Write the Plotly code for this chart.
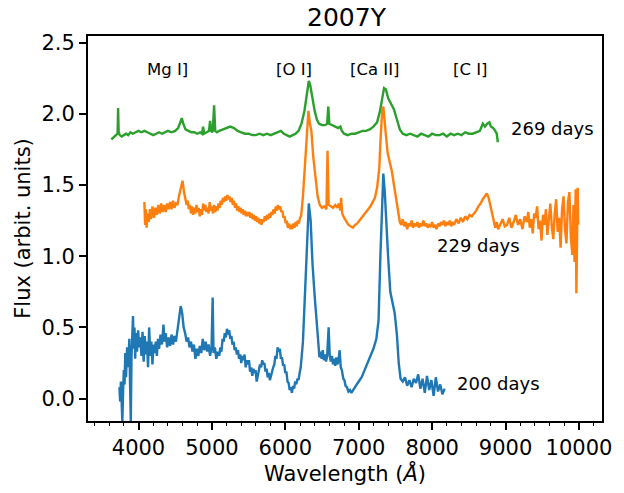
import plotly.graph_objects as go

# ---------------- data ----------------
green_wl = [3630, 3650, 3680, 3700, 3715, 3722, 3730, 3745, 3770, 3800, 3830, 3860, 3890, 3920,
            3960, 4000, 4040, 4080, 4120, 4160, 4200, 4240, 4280, 4320, 4360, 4400, 4450, 4500,
            4540, 4570, 4590, 4610, 4640, 4680, 4720, 4760, 4800, 4840, 4865, 4880, 4895, 4930,
            4960, 4975, 4990, 5010, 5030, 5045, 5070, 5100, 5150, 5200, 5250, 5300, 5350, 5400,
            5450, 5500, 5550, 5600, 5650, 5700, 5750, 5800, 5850, 5900, 5940, 5980, 6020, 6060,
            6100, 6140, 6180, 6220, 6260, 6290, 6320, 6340, 6370, 6400, 6430, 6460, 6500, 6540,
            6570, 6585, 6600, 6640, 6680, 6720, 6750, 6770, 6800, 6850, 6900, 6950, 7000, 7050,
            7100, 7150, 7200, 7250, 7290, 7320, 7345, 7370, 7400, 7440, 7480, 7520, 7560, 7600,
            7650, 7700, 7750, 7800, 7850, 7900, 7950, 8000, 8050, 8100, 8150, 8200, 8250, 8300,
            8350, 8400, 8450, 8500, 8550, 8600, 8650, 8690, 8720, 8750, 8780, 8800, 8830, 8860,
            8880, 8895]
green_fl = [1.82, 1.83, 1.84, 1.85, 1.86, 2.04, 1.87, 1.85, 1.84, 1.85, 1.86, 1.85, 1.87, 1.86,
            1.87, 1.88, 1.87, 1.88, 1.87, 1.86, 1.85, 1.86, 1.87, 1.86, 1.87, 1.88, 1.87, 1.88,
            1.90, 1.95, 1.97, 1.93, 1.89, 1.88, 1.87, 1.87, 1.86, 1.87, 1.86, 1.91, 1.86, 1.87,
            1.88, 1.95, 1.88, 1.87, 2.06, 1.88, 1.87, 1.88, 1.89, 1.90, 1.91, 1.90, 1.88, 1.87,
            1.86, 1.86, 1.85, 1.85, 1.86, 1.85, 1.86, 1.85, 1.86, 1.87, 1.88, 1.86, 1.85, 1.84,
            1.85, 1.86, 1.88, 1.93, 2.02, 2.12, 2.23, 2.20, 2.10, 2.02, 1.96, 1.93, 1.92, 1.92,
            1.93, 2.05, 1.93, 1.92, 1.91, 1.90, 1.91, 1.88, 1.86, 1.85, 1.86, 1.86, 1.87, 1.88,
            1.88, 1.89, 1.91, 1.94, 2.02, 2.12, 2.18, 2.17, 2.11, 2.07, 2.03, 1.96, 1.89, 1.86,
            1.85, 1.86, 1.85, 1.84, 1.86, 1.85, 1.84, 1.86, 1.85, 1.85, 1.86, 1.84, 1.86, 1.85,
            1.86, 1.85, 1.87, 1.86, 1.86, 1.87, 1.88, 1.93, 1.91, 1.93, 1.94, 1.91, 1.90, 1.88,
            1.86, 1.80]

orange_wl = [4080, 4090, 4100, 4110, 4125, 4140, 4155, 4170, 4190, 4210, 4230, 4250, 4270, 4290,
             4310, 4330, 4350, 4370, 4390, 4410, 4430, 4450, 4470, 4490, 4510, 4530, 4550, 4580,
             4600, 4620, 4640, 4655, 4670, 4685, 4700, 4715, 4730, 4745, 4760, 4775, 4790, 4805,
             4820, 4835, 4850, 4865, 4880, 4895, 4910, 4925, 4940, 4955, 4970, 4985, 5000, 5015,
             5030, 5045, 5060, 5075, 5090, 5105, 5120, 5135, 5150, 5165, 5180, 5195, 5210, 5225,
             5240, 5255, 5270, 5285, 5300, 5315, 5330, 5345, 5360, 5375, 5390, 5405, 5420, 5435,
             5450, 5465, 5480, 5495, 5510, 5525, 5540, 5555, 5570, 5585, 5600, 5615, 5630, 5645,
             5660, 5675, 5690, 5705, 5720, 5735, 5750, 5765, 5780, 5795, 5810, 5825, 5840, 5855,
             5870, 5885, 5900, 5915, 5930, 5945, 5960, 5975, 5990, 6005, 6020, 6035, 6050, 6065,
             6080, 6095, 6110, 6125, 6140, 6155, 6170, 6185, 6200, 6215,
             6240, 6270, 6295, 6315, 6335, 6355, 6380, 6410, 6440, 6470,
             6500, 6530, 6560, 6575, 6590, 6620, 6650, 6680, 6710, 6730, 6750, 6760, 6775, 6800,
             6830, 6860, 6890, 6920, 6950, 6980, 7010, 7040, 7070, 7100, 7130, 7160, 7190, 7220,
             7250, 7280, 7300, 7320, 7335, 7350, 7370, 7395, 7420, 7450, 7480, 7510, 7540, 7560,
             7580, 7600, 7620, 7640, 7660, 7680, 7700, 7720, 7740, 7760, 7780, 7800, 7820, 7840,
             7860, 7880, 7900, 7920, 7940, 7960, 7980, 8000, 8020, 8040, 8060, 8080, 8100, 8120,
             8140, 8160, 8180, 8200, 8220, 8240, 8260, 8280, 8300, 8330, 8360, 8390, 8420, 8450,
             8480, 8510, 8540, 8570, 8600, 8630, 8660, 8690, 8720, 8745, 8770, 8800, 8830, 8860,
             8880, 8900, 8930, 8960, 8990, 9020, 9050, 9080, 9110, 9140, 9170, 9200, 9230, 9260,
             9290, 9310, 9330, 9350, 9370, 9390, 9410, 9430, 9450, 9470, 9490, 9510, 9530, 9550,
             9570, 9590, 9610, 9630, 9650, 9670, 9690, 9710, 9730, 9750, 9770, 9790, 9810, 9830,
             9850, 9870, 9890, 9910, 9925, 9940, 9955, 9965, 9975, 9983, 9990]
orange_fl = [1.38, 1.22, 1.33, 1.20, 1.30, 1.24, 1.33, 1.26, 1.35, 1.27, 1.34, 1.29, 1.36, 1.30,
             1.37, 1.31, 1.36, 1.31, 1.37, 1.33, 1.38, 1.33, 1.39, 1.34, 1.37, 1.36, 1.42, 1.50,
             1.53, 1.45, 1.40, 1.36, 1.39, 1.33, 1.36, 1.30, 1.35, 1.29, 1.34, 1.30, 1.36, 1.31,
             1.34, 1.28, 1.33, 1.29, 1.37, 1.32, 1.36, 1.31, 1.34, 1.30, 1.38, 1.32, 1.35, 1.30,
             1.36, 1.31, 1.35, 1.32, 1.37, 1.34, 1.39, 1.36, 1.41, 1.38, 1.42, 1.39, 1.43, 1.40,
             1.42, 1.38, 1.41, 1.36, 1.39, 1.34, 1.37, 1.32, 1.35, 1.31, 1.34, 1.30, 1.33, 1.29,
             1.32, 1.28, 1.31, 1.28, 1.31, 1.27, 1.30, 1.26, 1.29, 1.25, 1.28, 1.24, 1.27, 1.23,
             1.26, 1.22, 1.26, 1.24, 1.28, 1.25, 1.29, 1.26, 1.30, 1.27, 1.31, 1.29, 1.33, 1.30,
             1.35, 1.32, 1.36, 1.33, 1.35, 1.31, 1.32, 1.27, 1.28, 1.23, 1.25, 1.20, 1.23, 1.19,
             1.22, 1.19, 1.23, 1.20, 1.24, 1.21, 1.25, 1.23, 1.27, 1.28,
             1.42, 1.65, 1.85, 2.02, 1.93, 1.88, 1.70, 1.58, 1.42, 1.36,
             1.34, 1.35, 1.33, 1.74, 1.36, 1.35, 1.34, 1.36, 1.34, 1.37, 1.32, 1.41, 1.30, 1.27,
             1.24, 1.22, 1.21, 1.20, 1.22, 1.23, 1.25, 1.27, 1.29, 1.31, 1.33, 1.35, 1.38, 1.41,
             1.48, 1.62, 1.85, 2.02, 2.05, 1.93, 1.85, 1.72, 1.66, 1.60, 1.50, 1.40, 1.30, 1.24,
             1.22, 1.26, 1.21, 1.24, 1.19, 1.23, 1.21, 1.25, 1.20, 1.23, 1.21, 1.24, 1.20, 1.23,
             1.21, 1.25, 1.21, 1.23, 1.20, 1.22, 1.21, 1.24, 1.20, 1.22, 1.19, 1.23, 1.21, 1.24,
             1.22, 1.25, 1.21, 1.24, 1.22, 1.25, 1.21, 1.24, 1.22, 1.26, 1.23, 1.27, 1.24, 1.28,
             1.26, 1.29, 1.28, 1.30, 1.32, 1.35, 1.37, 1.40, 1.42, 1.44, 1.41, 1.35, 1.27, 1.20,
             1.24, 1.19, 1.23, 1.26, 1.21, 1.22, 1.27, 1.20, 1.24, 1.29, 1.22, 1.26, 1.19, 1.28,
             1.24, 1.31, 1.20, 1.26, 1.16, 1.30, 1.27, 1.35, 1.19, 1.25, 1.11, 1.29, 1.22, 1.33,
             1.15, 1.26, 1.37, 1.21, 1.12, 1.30, 1.40, 1.17, 1.27, 1.06, 1.33, 1.42, 1.19, 1.09,
             1.38, 1.45, 1.13, 1.01, 1.36, 0.96, 1.47, 0.74, 1.12, 1.48, 1.22]

blue_wl = [3740, 3750, 3760, 3770, 3780, 3790, 3800, 3810, 3820, 3830, 3845, 3860, 3875, 3885,
           3895, 3905, 3915, 3925, 3935, 3945, 3955, 3965, 3980, 3995, 4010, 4025, 4040, 4055,
           4070, 4085, 4100, 4115, 4130, 4145, 4160, 4175, 4190, 4205, 4220, 4235, 4250, 4265,
           4280, 4300, 4320, 4340, 4355, 4370, 4390, 4410, 4430, 4450, 4470, 4490, 4510, 4530,
           4550, 4575, 4595, 4615, 4635, 4655, 4675, 4695, 4715, 4735, 4755, 4775, 4795, 4815,
           4835, 4855, 4875, 4895, 4915, 4935, 4955, 4975, 4995, 5010, 5022, 5040, 5060, 5080,
           5100, 5115, 5130, 5145, 5160, 5175, 5190, 5205, 5220, 5235, 5250, 5265, 5280, 5295,
           5310, 5325, 5340, 5355, 5370, 5385, 5400, 5415, 5430, 5445, 5460, 5475, 5490, 5505,
           5520, 5535, 5550, 5565, 5580, 5595, 5610, 5625, 5640, 5655, 5670, 5685, 5700, 5715,
           5730, 5745, 5760, 5775, 5790, 5805, 5820, 5835, 5850, 5865, 5880, 5895, 5910, 5925,
           5940, 5955, 5970, 5985, 6000, 6015, 6030, 6045, 6060, 6075, 6090, 6105, 6120, 6135,
           6150, 6165, 6180, 6195, 6210, 6240, 6270, 6295, 6320,
           6345, 6370, 6400, 6425, 6450, 6465, 6480, 6495, 6510, 6525, 6540, 6555, 6570, 6590,
           6605, 6620, 6635, 6650, 6665, 6680, 6695, 6710, 6725, 6740, 6755, 6770, 6790, 6805,
           6820, 6840, 6860, 6880, 6900, 6930, 6960, 7000, 7040, 7080, 7120,
           7160, 7200, 7240, 7270, 7295, 7315, 7335, 7355, 7375, 7400, 7430, 7460, 7490, 7520,
           7545, 7570, 7600, 7630, 7660, 7690, 7720, 7750, 7780, 7810, 7840, 7870, 7900, 7930,
           7960, 7990, 8020, 8050, 8080, 8110, 8140, 8170]
blue_fl = [0.08, -0.02, 0.12, 0.02, -0.16, 0.05, 0.20, 0.10, 0.32, 0.15, 0.36, 0.22, 0.42, 0.10,
           -0.16, 0.30, 0.45, 0.58, 0.35, 0.50, 0.28, 0.46, 0.33, 0.48, 0.36, 0.43, 0.30, 0.47,
           0.26, 0.44, 0.31, 0.40, 0.22, 0.50, 0.30, 0.40, 0.24, 0.38, 0.32, 0.40, 0.30, 0.42,
           0.35, 0.45, 0.38, 0.52, 0.40, 0.46, 0.36, 0.43, 0.37, 0.45, 0.38, 0.44, 0.40, 0.47,
           0.55, 0.65, 0.60, 0.50, 0.46, 0.40, 0.43, 0.36, 0.40, 0.33, 0.38, 0.28, 0.35, 0.30,
           0.37, 0.32, 0.42, 0.34, 0.40, 0.33, 0.38, 0.30, 0.36, 0.71, 0.32, 0.36, 0.28, 0.33,
           0.30, 0.36, 0.33, 0.42, 0.40, 0.46, 0.43, 0.49, 0.45, 0.48, 0.42, 0.44, 0.38, 0.40,
           0.34, 0.36, 0.31, 0.34, 0.28, 0.31, 0.25, 0.30, 0.27, 0.31, 0.22, 0.27, 0.24, 0.27,
           0.19, 0.22, 0.16, 0.21, 0.18, 0.20, 0.12, 0.17, 0.19, 0.24, 0.22, 0.27, 0.24, 0.25,
           0.19, 0.21, 0.15, 0.18, 0.13, 0.17, 0.19, 0.22, 0.24, 0.30, 0.28, 0.36, 0.33, 0.35,
           0.28, 0.29, 0.23, 0.24, 0.18, 0.19, 0.12, 0.11, 0.06, 0.08, 0.04, 0.09, 0.07, 0.12,
           0.10, 0.14, 0.13, 0.18, 0.22, 0.40, 0.80, 1.10, 1.37,
           1.25, 0.95, 0.72, 0.55, 0.35, 0.29, 0.33, 0.28, 0.34, 0.27, 0.31, 0.26, 0.30, 0.50,
           0.30, 0.26, 0.30, 0.24, 0.28, 0.23, 0.29, 0.24, 0.27, 0.34, 0.22, 0.20, 0.14, 0.13,
           0.09, 0.08, 0.05, 0.06, 0.04, 0.07, 0.09, 0.12, 0.15, 0.20, 0.25,
           0.30, 0.35, 0.42, 0.55, 1.00, 1.35, 1.58, 1.45, 1.20, 1.00, 0.75, 0.68, 0.60, 0.45,
           0.25, 0.14, 0.12, 0.15, 0.09, 0.13, 0.08, 0.14, 0.11, 0.17, 0.07, 0.14, 0.04, 0.16,
           0.06, 0.13, 0.02, 0.15, 0.05, 0.10, 0.03, 0.07]

series_labels = ["200 days", "229 days", "269 days"]
label_x = [8309, 8038, 9041]
label_y = [0.107, 1.077, 1.898]

ion_labels = ["Mg I]", "[O I]", "[Ca II]", "[C I]"]
ion_x = [4393, 6114, 7211, 8526]
ion_y = [2.313, 2.313, 2.313, 2.313]

x_ticks = [4000, 5000, 6000, 7000, 8000, 9000, 10000]
y_ticks = [0.0, 0.5, 1.0, 1.5, 2.0, 2.5]

# ---------------- figure ----------------
FONT = "DejaVu Sans"
colors = ["#1f77b4", "#ff7f0e", "#2ca02c"]

fig = go.Figure()
for wl, fl, c in [(blue_wl, blue_fl, colors[0]), (orange_wl, orange_fl, colors[1]),
                  (green_wl, green_fl, colors[2])]:
    fig.add_trace(go.Scatter(x=wl, y=fl, mode="lines", line=dict(color=c, width=2.4),
                             showlegend=False, hoverinfo="skip"))

for t, x, y in zip(series_labels, label_x, label_y):
    fig.add_annotation(x=x, y=y, text=t, showarrow=False, xanchor="left", yanchor="middle",
                       font=dict(family=FONT, size=18, color="black"))
for t, x, y in zip(ion_labels, ion_x, ion_y):
    fig.add_annotation(x=x, y=y, text=t, showarrow=False, xanchor="center", yanchor="middle",
                       font=dict(family=FONT, size=16.5, color="black"))

fig.update_layout(
    width=624, height=493,
    margin=dict(l=88, r=19, t=36, b=72),
    paper_bgcolor="white", plot_bgcolor="white",
    font=dict(family=FONT, color="black"),
    title=dict(text="2007Y", x=(88 + 605) / 2 / 624, xanchor="center",
               y=1 - 17 / 493, yanchor="middle", yref="container",
               font=dict(family=FONT, size=25, color="black")),
)
fig.update_xaxes(
    range=[3312, 10314], tickvals=x_ticks, ticktext=[str(v) for v in x_ticks],
    showgrid=False, zeroline=False, showline=True, linecolor="black", linewidth=1.8,
    mirror=True, ticks="outside", ticklen=7, tickwidth=1.5, tickcolor="black",
    tickfont=dict(family=FONT, size=21),
    minor=dict(dtick=200, tick0=0, ticks="outside", ticklen=3.5, tickwidth=1, tickcolor="black"),
    title=dict(text="Wavelength (<i>Å</i>)", font=dict(family=FONT, size=21), standoff=4),
)
fig.update_yaxes(
    range=[-0.157, 2.546], tickvals=y_ticks, ticktext=[f"{v:.1f}" for v in y_ticks],
    showgrid=False, zeroline=False, showline=True, linecolor="black", linewidth=1.8,
    mirror=True, ticks="outside", ticklen=7, tickwidth=1.5, tickcolor="black",
    tickfont=dict(family=FONT, size=21),
    title=dict(text="Flux (arbit. units)", font=dict(family=FONT, size=21), standoff=5),
)

fig.write_html("out.html")
